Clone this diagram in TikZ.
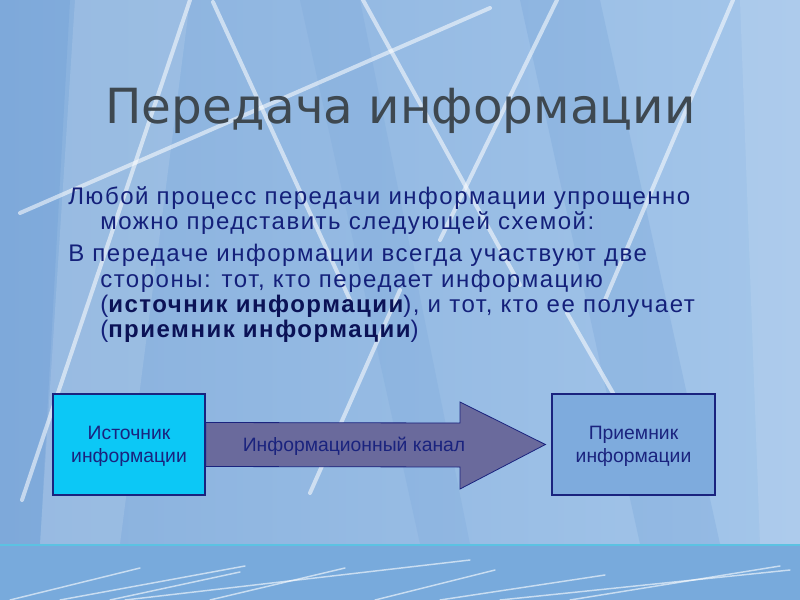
\documentclass[tikz,border=0pt]{standalone}
\usepackage{fontspec}
\setmainfont{Liberation Sans}
\newfontfamily\titlefont{DejaVu Sans}
\newfontfamily\bodyfont[LetterSpace=6.3]{Liberation Sans}
\usetikzlibrary{calc}
\definecolor{bgA}{HTML}{88B0DD}
\definecolor{bgB}{HTML}{A4C6EA}
\definecolor{stripe}{HTML}{6E9ED6}
\definecolor{bandc}{HTML}{78AADC}
\definecolor{bandtop}{HTML}{5CC2E2}
\definecolor{titlec}{HTML}{3E4850}
\definecolor{bodyc}{HTML}{14207A}
\definecolor{boldc}{HTML}{0B1256}
\definecolor{navy}{HTML}{1A237E}
\definecolor{srcfill}{HTML}{0CC8F6}
\definecolor{dstfill}{HTML}{7EABDD}
\definecolor{chanfill}{HTML}{6A6A9C}
\tikzset{
  deco/.style={white, opacity=0.55, line width=3pt, line cap=round},
  streak/.style={white, opacity=0.6, line width=1.1pt, line cap=round},
  bodytext/.style={anchor=base west, inner sep=0, text=bodyc, font=\bodyfont\fontsize{18}{20}\selectfont},
  boxtext/.style={text=navy, align=center, font=\fontsize{14.5}{17.25}\selectfont},
  box/.style={draw=navy, line width=0.9pt, minimum height=75.75pt, inner sep=0},
  chan/.style={draw=navy, line width=0.6pt, fill=chanfill}
}
\begin{document}
\begin{tikzpicture}[x=0.75pt,y=-0.75pt]
\useasboundingbox (0,0) rectangle (800,600);
% background
\shade[left color=bgA, right color=bgB] (0,0) rectangle (800,600);
\fill[stripe, opacity=0.35] (0,0) -- (70,0) -- (40,544) -- (0,544) -- cycle;
\fill[white, opacity=0.12] (75,0) -- (190,0) -- (120,544) -- (40,544) -- cycle;
\fill[stripe, opacity=0.25] (520,0) -- (600,0) -- (720,544) -- (640,544) -- cycle;
\fill[stripe, opacity=0.18] (300,0) -- (360,0) -- (470,544) -- (420,544) -- cycle;
\fill[white, opacity=0.10] (740,0) -- (800,0) -- (800,544) -- (760,544) -- cycle;
% decorative lines
\draw[deco] (190,0) -- (22,500);
\draw[deco] (213,2) -- (350,300);
\draw[deco] (20,213) -- (490,8);
\draw[deco] (363,0) -- (520,285);
\draw[deco] (557,0) -- (440,240);
\draw[deco] (733,0) -- (605,300);
\draw[deco] (400,290) -- (310,493);
\draw[deco] (567,313) -- (613,393);
% bottom band
\fill[bandc] (0,544) rectangle (800,600);
\draw[bandtop, line width=1.5pt] (0,545) -- (800,545);
\draw[streak] (10,600) -- (140,568);
\draw[streak] (60,600) -- (245,566);
\draw[streak] (110,600) -- (240,572);
\draw[streak] (210,600) -- (345,568);
\draw[streak] (125,600) -- (470,560);
\draw[streak] (375,600) -- (495,570);
\draw[streak] (440,600) -- (605,575);
\draw[streak] (500,600) -- (790,570);
\draw[streak] (570,600) -- (780,566);
% title
\node[anchor=base west, inner sep=0, text=titlec, font=\titlefont\fontsize{36.3}{40}\selectfont] (title) at (105,123) {Передача информации};
% body
\node[bodytext] (l1) at (68,204) {Любой процесс передачи информации упрощенно};
\node[bodytext] (l2) at (100,229) {можно представить следующей схемой:};
\node[bodytext] (l3) at (68,261) {В передаче информации всегда участвуют две};
\node[bodytext] (l4) at (100,287) {стороны: тот, кто передает информацию};
\node[bodytext] (l5) at (100,312) {({\bfseries\color{boldc}источник информации}), и тот, кто ее получает};
\node[bodytext] (l6) at (100,337) {({\bfseries\color{boldc}приемник информации})};
% diagram
\node[box, fill=srcfill, minimum width=114pt] (src) at (129,444.5) {};
\node[box, fill=dstfill, minimum width=122.25pt] (dst) at (633.5,444.5) {};
\coordinate (tip) at ($(dst.west)+(-6,0)$);
\draw[chan] ($(src.east)+(0,-22)$) -- (460,423) -- (460,402) -- (tip) -- (460,489) -- (460,467) -- ($(src.east)+(0,22)$) -- cycle;
\draw[navy, line width=0.9pt] (src.north east) -- (src.south east);
\node[boxtext] (srct) at ($(src)+(0,2)$) {Источник\\информации};
\node[boxtext] (dstt) at ($(dst)+(0,2)$) {Приемник\\информации};
\node[boxtext] (chant) at (354,446) {Информационный канал};
\end{tikzpicture}
\end{document}
